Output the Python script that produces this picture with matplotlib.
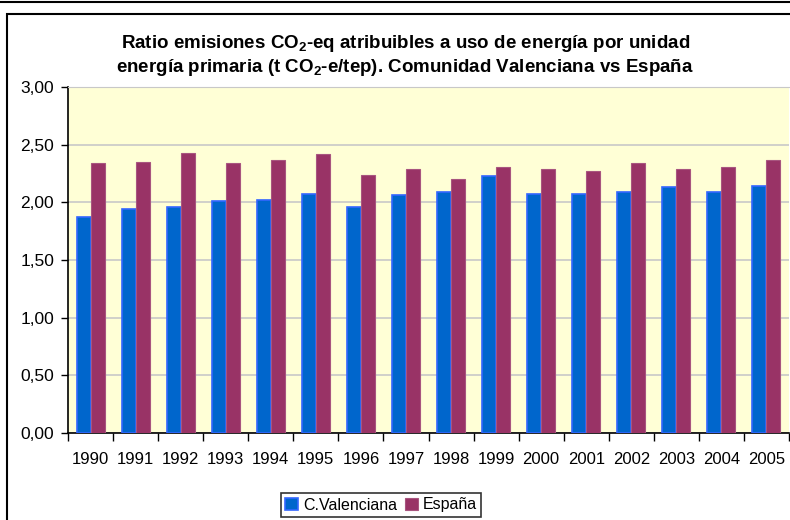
import matplotlib.pyplot as plt
import numpy as np
from matplotlib.patches import Rectangle
from matplotlib.lines import Line2D
from matplotlib.ticker import FuncFormatter

plt.rcParams['font.family'] = ['Liberation Sans', 'DejaVu Sans']
plt.rcParams['mathtext.fontset'] = 'custom'
plt.rcParams['mathtext.rm'] = 'Liberation Sans:bold'
plt.rcParams['mathtext.it'] = 'Liberation Sans:bold'

years = [str(y) for y in range(1990, 2006)]
cval = [1.87, 1.94, 1.96, 2.01, 2.02, 2.075, 1.96, 2.06,
        2.087, 2.23, 2.075, 2.075, 2.087, 2.13, 2.087, 2.14]
espana = [2.34, 2.35, 2.425, 2.34, 2.37, 2.415, 2.24, 2.29,
          2.20, 2.31, 2.29, 2.27, 2.34, 2.29, 2.31, 2.37]

fig = plt.figure(figsize=(7.9, 5.2), dpi=100)
ax = fig.add_axes([68 / 790, 87 / 520, 721 / 790, 346 / 520])
ax.set_facecolor('#FFFFD6')

x = np.arange(len(years))
w = 0.31
ax.bar(x - w / 2, cval, w, color='#0066CC', edgecolor='#3366FF', linewidth=1.2,
       label='C.Valenciana', zorder=3)
ax.bar(x + w / 2, espana, w, color='#993366', edgecolor='#A8557F', linewidth=0.8,
       label='España', zorder=3)

ax.set_xlim(-0.5, len(years) - 0.5)
ax.set_ylim(0, 3)
ax.set_yticks(np.arange(0, 3.01, 0.5))
ax.yaxis.set_major_formatter(FuncFormatter(lambda v, p: f'{v:.2f}'.replace('.', ',')))
ax.yaxis.grid(True, color='#C8C8C8', linewidth=1.2, zorder=0)

ax.set_xticks(x)
ax.set_xticklabels(years)
ax.set_xticks(np.arange(-0.5, len(years), 1), minor=True)
ax.tick_params(axis='x', which='major', length=0, pad=14, labelsize=12)
ax.tick_params(axis='x', which='minor', length=6, width=1, direction='out')
ax.tick_params(axis='y', length=5, width=1, direction='out', pad=5, labelsize=12.5)

ax.spines['right'].set_visible(False)
ax.spines['top'].set_color('#C8C8C8')
ax.spines['left'].set_linewidth(1.2)
ax.spines['bottom'].set_linewidth(1.2)

fig.text(0.513, 1 - 44 / 520, r'Ratio emisiones CO$_2$-eq atribuibles a uso de energía por unidad',
         ha='center', va='center', fontsize=13.5, fontweight='bold')
fig.text(0.513, 1 - 68 / 520, r'energía primaria (t CO$_2$-e/tep). Comunidad Valenciana vs España',
         ha='center', va='center', fontsize=13.5, fontweight='bold')

# chart frame
fig.patches.append(Rectangle((7 / 790, -0.1), 1.1, 1 - 14 / 520 + 0.1, transform=fig.transFigure,
                             fill=False, edgecolor='black', linewidth=1.5))
fig.lines.append(Line2D([0, 1], [1 - 1.5 / 520, 1 - 1.5 / 520], transform=fig.transFigure,
                        color='black', linewidth=1.5))

leg = fig.legend(loc='center', bbox_to_anchor=(381 / 790, 15 / 520), ncol=2, fontsize=11.5,
                 frameon=True, fancybox=False, edgecolor='black', handlelength=0.8,
                 handleheight=0.8, handletextpad=0.3, columnspacing=0.5, borderpad=0.3)
leg.get_frame().set_linewidth(1.2)

fig.savefig('out.png', dpi=100)
